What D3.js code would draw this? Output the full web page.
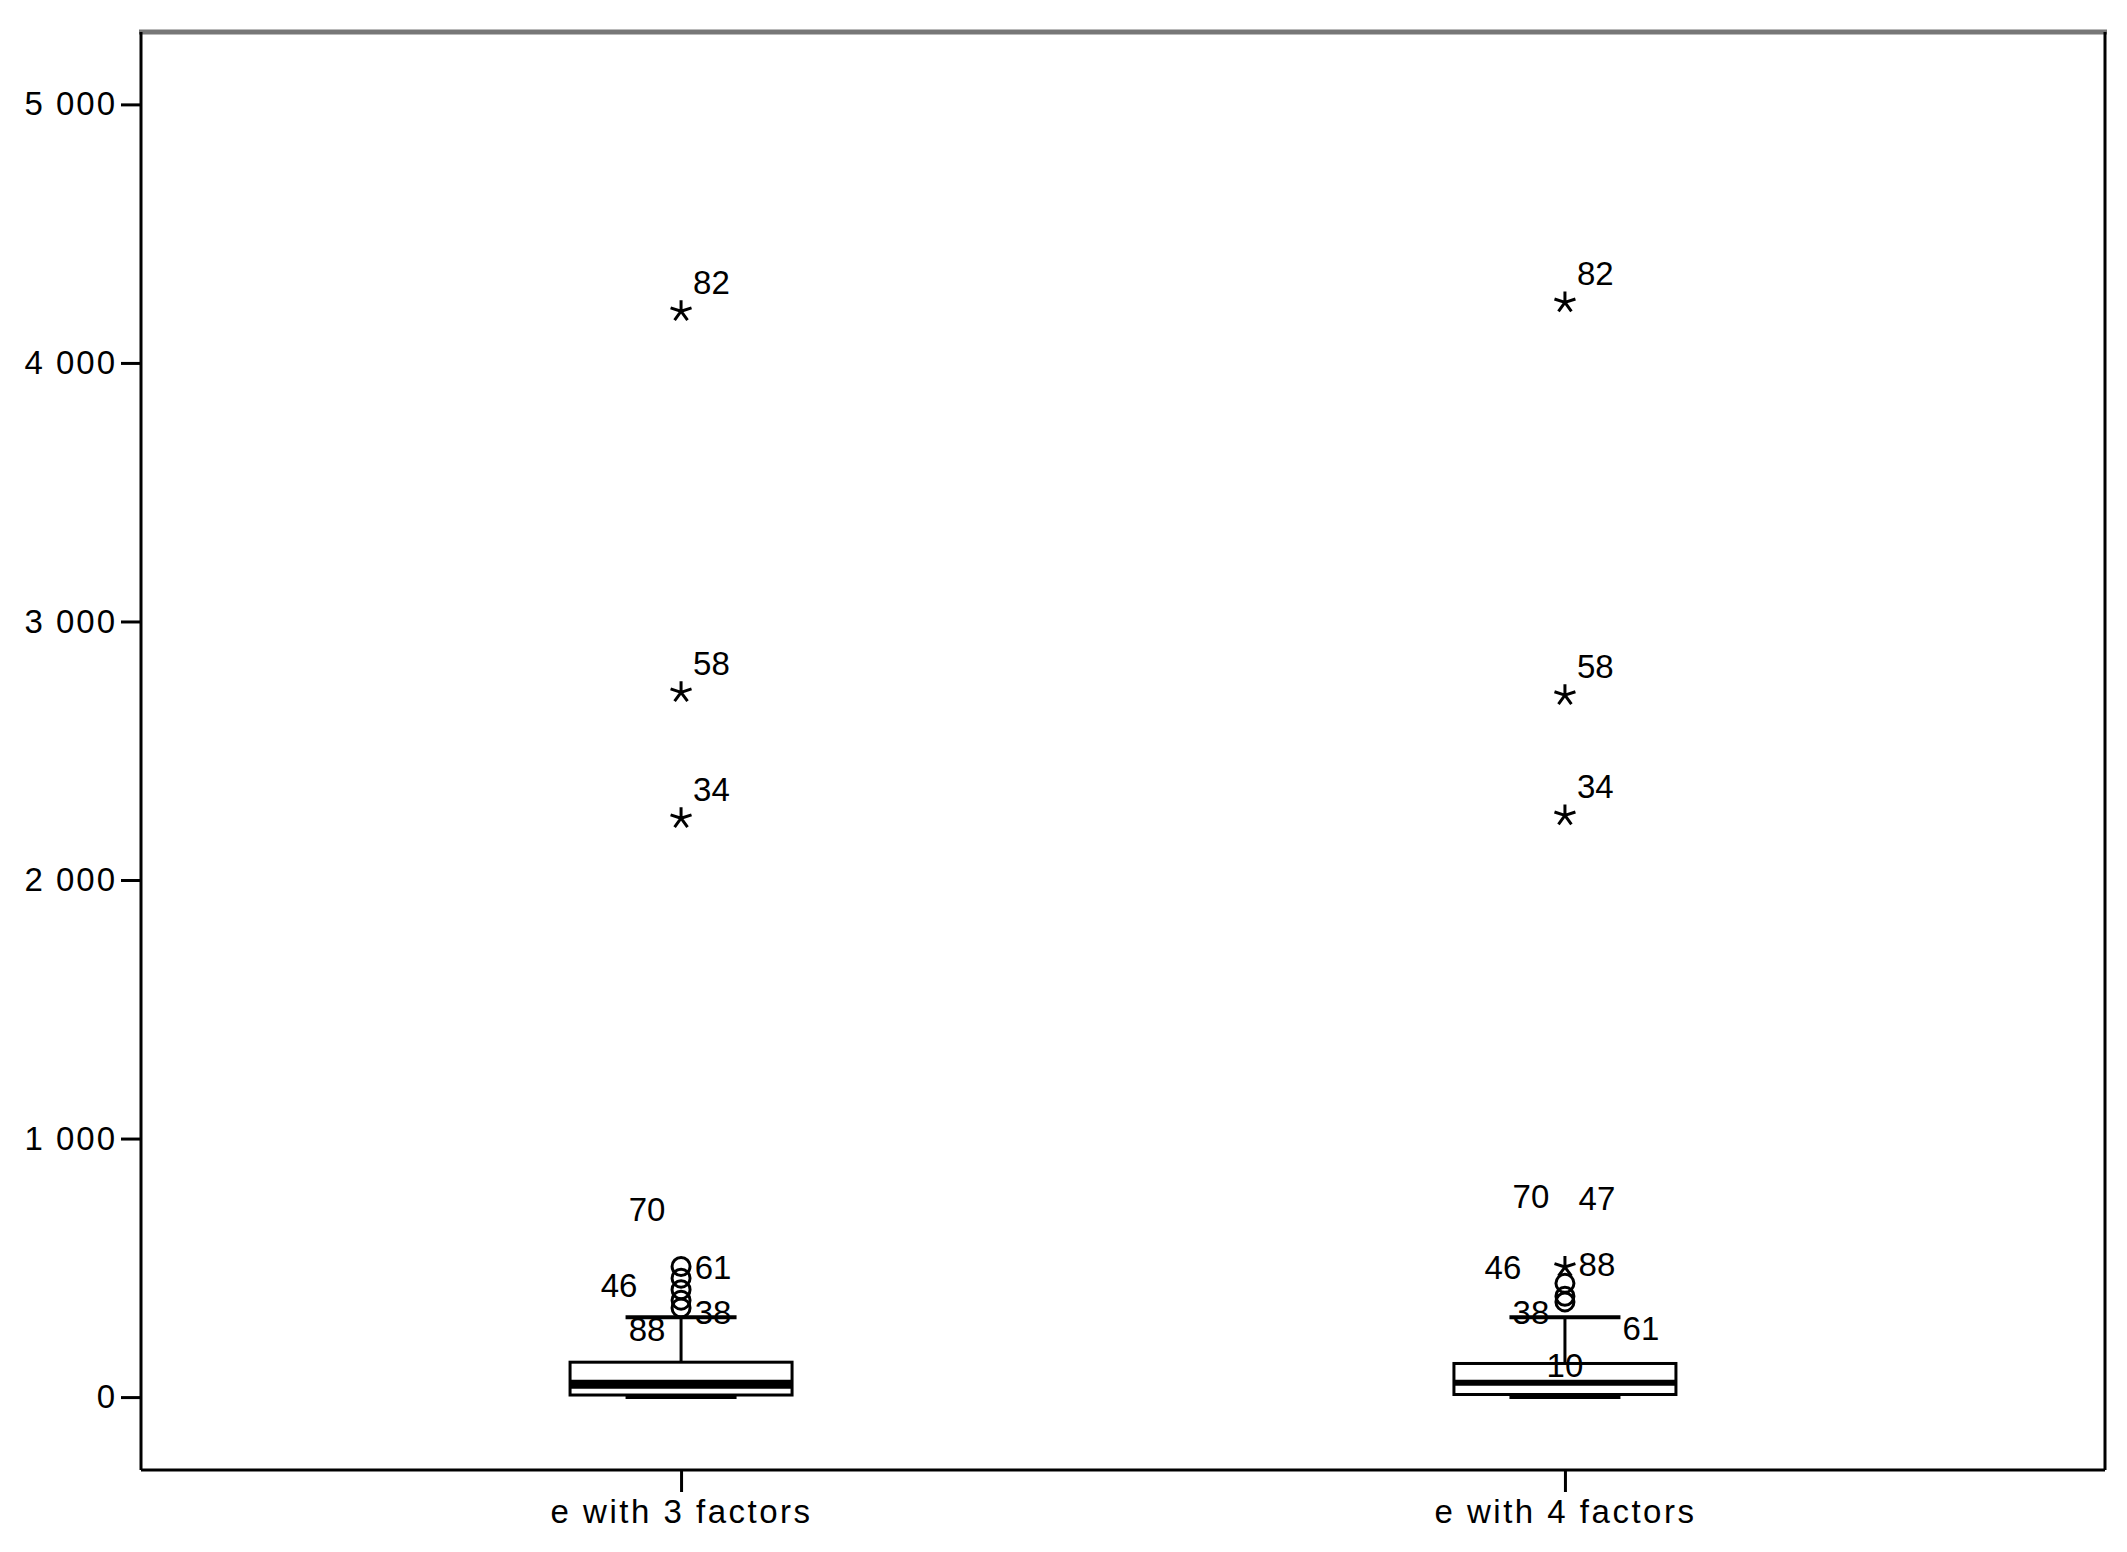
<!DOCTYPE html>
<html>
<head>
<meta charset="utf-8">
<script src="https://cdn.jsdelivr.net/npm/d3@7"></script>
<style>
  body { margin: 0; background: #fff; }
  text { font-family: "Liberation Sans", Arial, sans-serif; }
</style>
</head>
<body>
<div id="chart"></div>
<script>
"use strict";

// categories and box stats
const categories = ["e with 3 factors", "e with 4 factors"];
const lowWhisker = [0, 0];
const q1 = [8, 10];
const medians = [50, 55];
const q3 = [135, 130];
const highWhisker = [309, 309];

// mild outliers (circles) and extremes (stars)
const circles3 = [505, 460, 415, 375, 345];
const circles4 = [440, 390, 368];
const stars3 = [{id: "82", v: 4200}, {id: "58", v: 2726}, {id: "34", v: 2239}];
const stars4 = [{id: "82", v: 4234}, {id: "58", v: 2715}, {id: "34", v: 2250}, {id: "", v: 503}];

// case labels near the boxes (value = label centre, side = where it sits)
const caseLabels3 = [
  {id: "70", v: 727, side: "l"}, {id: "46", v: 433, side: "ll"},
  {id: "61", v: 503, side: "r"}, {id: "38", v: 329, side: "r"},
  {id: "88", v: 263, side: "l"}
];
const caseLabels4 = [
  {id: "70", v: 777, side: "l"}, {id: "47", v: 770, side: "r"},
  {id: "46", v: 503, side: "ll"}, {id: "88", v: 514, side: "r"},
  {id: "38", v: 329, side: "l"}, {id: "61", v: 267, side: "rr"},
  {id: "10", v: 124, side: "c"}
];

const yTicks = [0, 1000, 2000, 3000, 4000, 5000];

const width = 2127, height = 1552;
const mLeft = 141, mRight = 2105, mTop = 32, mBottom = 1470;

const svg = d3.select("#chart").append("svg")
    .attr("width", width)
    .attr("height", height);

const x = d3.scalePoint()
    .domain(categories)
    .range([mLeft, mRight])
    .padding(0.611);

const y = d3.scaleLinear()
    .domain([-282, 5280])
    .range([mBottom, mTop]);

const fmt = d3.formatLocale({decimal: ",", thousands: " ", grouping: [3], currency: ["", ""]}).format(",");

// frame
svg.append("line").attr("x1", mLeft - 2).attr("x2", mRight + 2).attr("y1", mTop).attr("y2", mTop)
    .attr("stroke", "#777").attr("stroke-width", 5);
svg.append("line").attr("x1", mRight).attr("x2", mRight).attr("y1", mTop).attr("y2", mBottom)
    .attr("stroke", "#000").attr("stroke-width", 3);

// y axis
const yAxis = svg.append("g")
    .attr("transform", `translate(${mLeft},0)`)
    .call(d3.axisLeft(y).tickValues(yTicks).tickFormat(fmt).tickSize(20).tickPadding(4).tickSizeOuter(0));
yAxis.select(".domain").attr("stroke-width", 3).attr("d", `M0,${mTop}V${mBottom}`);
yAxis.selectAll(".tick line").attr("stroke-width", 3);
yAxis.selectAll("text").attr("font-size", 33).attr("letter-spacing", 2).attr("fill", "#000");

// x axis
const xAxis = svg.append("g")
    .attr("transform", `translate(0,${mBottom})`)
    .call(d3.axisBottom(x).tickSize(22).tickPadding(8).tickSizeOuter(0));
xAxis.select(".domain").attr("stroke-width", 3).attr("d", `M${mLeft},0H${mRight}`);
xAxis.selectAll(".tick line").attr("stroke-width", 3);
xAxis.selectAll("text").attr("font-size", 33).attr("letter-spacing", 2.5).attr("fill", "#000");

const boxW = 222, capW = 111;

const starPath = (r) => {
  let p = "";
  for (let k = 0; k < 5; k++) {
    const a = -Math.PI / 2 + k * 2 * Math.PI / 5;
    p += `M0,0L${(r * Math.cos(a)).toFixed(2)},${(r * Math.sin(a)).toFixed(2)}`;
  }
  return p;
};

categories.forEach((c, i) => {
  const cx = x(c);
  const g = svg.append("g");

  // whiskers
  g.append("line").attr("x1", cx).attr("x2", cx).attr("y1", y(highWhisker[i])).attr("y2", y(q3[i]))
      .attr("stroke", "#000").attr("stroke-width", 3);
  g.append("line").attr("x1", cx - capW / 2).attr("x2", cx + capW / 2)
      .attr("y1", y(highWhisker[i])).attr("y2", y(highWhisker[i]))
      .attr("stroke", "#000").attr("stroke-width", 4);
  g.append("line").attr("x1", cx - capW / 2).attr("x2", cx + capW / 2)
      .attr("y1", y(lowWhisker[i])).attr("y2", y(lowWhisker[i]))
      .attr("stroke", "#000").attr("stroke-width", 4);

  // box
  g.append("rect")
      .attr("x", cx - boxW / 2).attr("width", boxW)
      .attr("y", y(q3[i])).attr("height", y(q1[i]) - y(q3[i]))
      .attr("fill", "#fff").attr("stroke", "#000").attr("stroke-width", 3);
  g.append("line").attr("x1", cx - boxW / 2).attr("x2", cx + boxW / 2)
      .attr("y1", y(medians[i])).attr("y2", y(medians[i]))
      .attr("stroke", "#000").attr("stroke-width", i === 0 ? 9 : 6);

  // circles
  const circ = i === 0 ? circles3 : circles4;
  g.selectAll("circle.out").data(circ).join("circle")
      .attr("class", "out")
      .attr("cx", cx).attr("cy", d => y(d)).attr("r", 9)
      .attr("fill", "none").attr("stroke", "#000").attr("stroke-width", 3);

  // stars
  const st = i === 0 ? stars3 : stars4;
  g.selectAll("path.star").data(st).join("path")
      .attr("class", "star")
      .attr("transform", d => `translate(${cx},${y(d.v)})`)
      .attr("d", starPath(11))
      .attr("stroke", "#000").attr("stroke-width", 3).attr("fill", "none");
  g.selectAll("text.starlab").data(st.filter(d => d.id)).join("text")
      .attr("class", "starlab")
      .attr("x", cx + 12).attr("y", d => y(d.v) - 17)
      .attr("font-size", 33).text(d => d.id);

  // case labels
  const offs = {ll: -62, l: -34, c: 0, r: 32, rr: 76};
  const labs = i === 0 ? caseLabels3 : caseLabels4;
  g.selectAll("text.case").data(labs).join("text")
      .attr("class", "case")
      .attr("x", d => cx + offs[d.side]).attr("y", d => y(d.v))
      .attr("text-anchor", "middle").attr("dominant-baseline", "central")
      .attr("font-size", 33).text(d => d.id);
});
</script>
</body>
</html>
